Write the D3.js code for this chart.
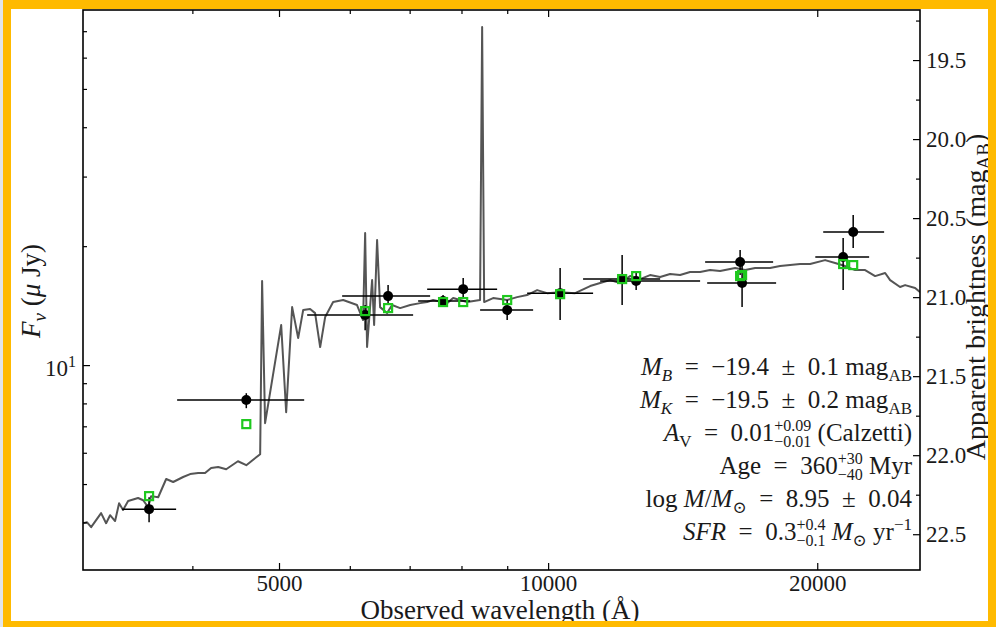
<!DOCTYPE html>
<html>
<head>
<meta charset="utf-8">
<script src="https://cdn.jsdelivr.net/npm/d3@7"></script>
<style>
  body { margin: 0; background: #e2e5e9; }
  svg { display: block; }
  text { font-family: "Liberation Serif", "DejaVu Serif", serif; fill: #1a1a1a; }
</style>
</head>
<body>
<svg id="chart" width="996" height="627"></svg>
<script>
// model spectrum (observed wavelength in A, flux in uJy)
const specWave = [3019,3050,3082,3162,3203,3236,3278,3312,3346,3390,3478,3524,3569,3597,3663,3739,3807,3906,3977,4060,
  4133,4198,4275,4364,4498,4596,4763,4787,4824,5028,5093,5172,5253,5321,5417,5487,5559,5631,5748,5898,
  6113,6209,6242,6273,6355,6388,6437,6487,6604,6690,6831,7010,7192,7323,7436,7709,7830,8116,8392,8437,
  8481,8679,8999,9232,9473,9721,9974,10314,10720,11143,11433,11731,12036,12350,12672,13002,13343,13691,14048,14414,
  14791,15176,15572,16189,16611,17044,17713,18175,18650,19136,19636,20408,20941,21488,22049,22625,23216,23822,24130,24756,
  25079,25735,26068];
const specFlux = [3.98,4.00,3.89,4.22,3.98,4.17,4.03,4.47,4.30,4.53,4.61,4.55,4.37,4.66,4.63,5.15,5.06,5.21,5.30,5.33,
  5.33,5.49,5.52,5.45,5.71,5.58,5.95,16.32,7.13,12.63,7.60,14.02,11.71,13.78,13.86,13.54,11.11,13.23,14.44,14.61,
  14.19,13.00,21.59,11.11,16.41,12.63,20.73,14.02,13.54,14.19,13.94,14.19,14.35,14.44,14.61,14.35,14.78,14.44,14.61,71.73,
  14.44,14.78,14.61,14.86,15.04,15.48,15.21,15.30,15.21,15.85,16.13,16.41,16.13,16.80,16.51,16.90,16.71,17.00,16.90,17.20,
  17.20,17.40,17.30,17.61,17.40,17.61,17.61,17.81,17.91,18.02,18.02,18.44,18.13,17.81,17.40,17.40,16.80,17.10,16.41,15.76,
  15.94,15.67,15.30];

// observed photometry
const obsWave   = [3578,4596,6242,6622,7629,8035,8999,10314,12100,12545,16397,16480,21380,21940];
const obsWaveLo = [3338,3846,5376,5883,7155,7323,8393,9474,10942,11433,14984,15063,19900,20310];
const obsWaveHi = [3836,5335,7063,7379,8180,8769,9621,11228,13345,14791,17852,17990,22860,23760];
const obsFlux   = [4.32,8.16,13.39,14.95,14.52,15.57,13.78,15.21,16.51,16.32,18.23,16.13,18.77,21.71];
const obsFluxLo = [4.00,7.78,12.26,14.19,14.02,14.78,13.00,13.00,14.19,15.48,16.90,14.02,15.48,19.78];
const obsFluxHi = [4.63,8.49,14.19,15.94,15.04,16.61,14.61,17.61,18.99,17.20,19.55,17.91,20.97,23.97];
// model photometry
const modelFlux = [4.66,7.09,13.70,13.94,14.44,14.44,14.61,15.12,16.51,16.80,16.80,16.90,18.02,17.91];

const xMajor = [5000, 10000, 20000];
const xMinor = [4000, 6000, 7000, 8000, 9000];
const yMajor = [10];
const yMinor = [4, 5, 6, 7, 8, 9, 20, 30, 40, 50, 60, 70];
const magMajor = [19.5, 20.0, 20.5, 21.0, 21.5, 22.0, 22.5];
const magMinor = [19.25, 19.75, 20.25, 20.75, 21.25, 21.75, 22.25];

const zp = 23.93;
const pL = 83, pR = 920, pT = 10, pB = 570;

const svg = d3.select("#chart");
svg.append("rect").attr("x", 3).attr("y", 0).attr("width", 993).attr("height", 627).attr("fill", "#fff");

const x = d3.scaleLog().domain([3018, 26060]).range([pL, pR]);
const y = d3.scaleLog().domain([3.03, 79.2]).range([pB, pT]);
const mag = f => zp - 2.5 * Math.log10(f);
const yMag = d3.scaleLinear().domain([mag(3.03), mag(79.2)]).range([pB, pT]);

svg.append("clipPath").attr("id", "clip")
  .append("rect").attr("x", pL).attr("y", pT).attr("width", pR - pL).attr("height", pB - pT);

const plot = svg.append("g").attr("clip-path", "url(#clip)");

// spectrum
const spec = specWave.map((w, i) => ({ w: w, f: specFlux[i] }));
plot.append("path")
  .datum(spec)
  .attr("fill", "none")
  .attr("stroke", "#555")
  .attr("stroke-width", 2)
  .attr("stroke-linejoin", "round")
  .attr("d", d3.line().x(d => x(d.w)).y(d => y(d.f)));

const pts = obsWave.map((w, i) => ({
  w: w, lo: obsWaveLo[i], hi: obsWaveHi[i],
  f: obsFlux[i], flo: obsFluxLo[i], fhi: obsFluxHi[i], m: modelFlux[i]
}));

// error bars
plot.selectAll(".xerr").data(pts).enter().append("line")
  .attr("x1", d => x(d.lo)).attr("x2", d => x(d.hi))
  .attr("y1", d => y(d.f)).attr("y2", d => y(d.f))
  .attr("stroke", "#000").attr("stroke-width", 1.5);
plot.selectAll(".yerr").data(pts).enter().append("line")
  .attr("x1", d => x(d.w)).attr("x2", d => x(d.w))
  .attr("y1", d => y(d.flo)).attr("y2", d => y(d.fhi))
  .attr("stroke", "#000").attr("stroke-width", 1.5);
plot.selectAll(".drop").data(pts).enter().append("circle")
  .attr("cx", d => x(d.w)).attr("cy", d => y(d.f)).attr("r", 5)
  .attr("fill", "#000");
plot.selectAll(".model").data(pts).enter().append("rect")
  .attr("x", d => x(d.w) - 4).attr("y", d => y(d.m) - 4)
  .attr("width", 8).attr("height", 8)
  .attr("fill", "none").attr("stroke", "#1ec81e").attr("stroke-width", 2.2);

// axes
function styleAxis(g) {
  g.select(".domain").remove();
  g.selectAll(".tick line").attr("stroke", "#000").attr("stroke-width", 1.2);
  g.selectAll(".tick text").attr("font-family", "Liberation Serif, serif").attr("font-size", 23).attr("fill", "#1a1a1a");
}
svg.append("g").attr("transform", `translate(0,${pB})`)
  .call(d3.axisBottom(x).tickValues(xMajor).tickSize(-7).tickPadding(5).tickFormat(d3.format("d")))
  .call(styleAxis);
svg.append("g").attr("transform", `translate(0,${pB})`)
  .call(d3.axisBottom(x).tickValues(xMinor).tickSize(-4).tickFormat(""))
  .call(styleAxis);
svg.append("g").attr("transform", `translate(0,${pT})`)
  .call(d3.axisTop(x).tickValues(xMajor).tickSize(-7).tickFormat(""))
  .call(styleAxis);
svg.append("g").attr("transform", `translate(0,${pT})`)
  .call(d3.axisTop(x).tickValues(xMinor).tickSize(-4).tickFormat(""))
  .call(styleAxis);
svg.append("g").attr("transform", `translate(${pL},0)`)
  .call(d3.axisLeft(y).tickValues(yMajor).tickSize(-7).tickFormat(""))
  .call(styleAxis);
svg.append("g").attr("transform", `translate(${pL},0)`)
  .call(d3.axisLeft(y).tickValues(yMinor).tickSize(-4).tickFormat(""))
  .call(styleAxis);
svg.append("g").attr("transform", `translate(${pR},0)`)
  .call(d3.axisRight(yMag).tickValues(magMajor).tickSize(-7).tickPadding(6).tickFormat(d3.format(".1f")))
  .call(styleAxis);
svg.append("g").attr("transform", `translate(${pR},0)`)
  .call(d3.axisRight(yMag).tickValues(magMinor).tickSize(-4).tickFormat(""))
  .call(styleAxis);

// 10^1 label
const tenLbl = svg.append("text").attr("x", 76).attr("y", y(10) + 11).attr("text-anchor", "end").attr("font-size", 23);
tenLbl.append("tspan").text("10");
tenLbl.append("tspan").text("1").attr("font-size", 16).attr("dy", -9);

// frame
svg.append("rect").attr("x", pL).attr("y", pT).attr("width", pR - pL).attr("height", pB - pT)
  .attr("fill", "none").attr("stroke", "#000").attr("stroke-width", 1.6);

// axis labels
svg.append("text").attr("x", 500).attr("y", 619).attr("text-anchor", "middle").attr("font-size", 27)
  .text("Observed wavelength (Å)");

const fl = svg.append("text").attr("transform", "translate(40,291) rotate(-90)")
  .attr("text-anchor", "middle").attr("font-size", 27);
fl.append("tspan").text("F").attr("font-style", "italic");
fl.append("tspan").text("ν").attr("font-style", "italic").attr("font-size", 19).attr("dy", 6);
fl.append("tspan").text(" (").attr("dy", -6);
fl.append("tspan").text("μ").attr("font-style", "italic");
fl.append("tspan").text(" Jy)");

const rl = svg.append("text").attr("transform", "translate(985,297) rotate(-90)")
  .attr("text-anchor", "middle").attr("font-size", 28);
rl.append("tspan").text("Apparent brightness (mag");
rl.append("tspan").text("AB").attr("font-size", 19).attr("dy", 5);
rl.append("tspan").text(")").attr("dy", -5);

// info text
function mathText(yPos, parts) {
  const t = svg.append("text").attr("x", 912).attr("y", yPos).attr("text-anchor", "end").attr("font-size", 25);
  let shift = 0, pendDx = 0;
  parts.forEach(p => {
    if (p.pair) {
      const sup = t.append("tspan").text(p.pair[0]).attr("font-size", 16).attr("dy", -10 - shift).attr("dx", pendDx);
      const l1 = sup.node().getComputedTextLength();
      const sub = t.append("tspan").text(p.pair[1]).attr("font-size", 16).attr("dx", -l1).attr("dy", 16);
      const l2 = sub.node().getComputedTextLength();
      shift = 6; pendDx = Math.max(l1, l2) - l2;
      return;
    }
    const off = p.sub ? 6 : p.sup ? -10 : 0;
    const s = t.append("tspan").text(p.t).attr("dy", off - shift).attr("dx", pendDx);
    if (p.sub || p.sup) s.attr("font-size", 17);
    if (p.it) s.attr("font-style", "italic");
    shift = off; pendDx = 0;
  });
}
const eq = "\u2002=\u2002", pm = "\u2002±\u2002";
mathText(375, [{t: "M", it: 1}, {t: "B", it: 1, sub: 1}, {t: eq + "−19.4" + pm + "0.1 mag"}, {t: "AB", sub: 1}]);
mathText(408, [{t: "M", it: 1}, {t: "K", it: 1, sub: 1}, {t: eq + "−19.5" + pm + "0.2 mag"}, {t: "AB", sub: 1}]);
mathText(441, [{t: "A", it: 1}, {t: "V", sub: 1}, {t: eq + "0.01"}, {pair: ["+0.09", "−0.01"]}, {t: " (Calzetti)"}]);
mathText(474, [{t: "Age" + eq + "360"}, {pair: ["+30", "−40"]}, {t: " Myr"}]);
mathText(507, [{t: "log "}, {t: "M", it: 1}, {t: "/"}, {t: "M", it: 1}, {t: "⊙", sub: 1}, {t: eq + "8.95" + pm + "0.04"}]);
mathText(540, [{t: "SFR", it: 1}, {t: eq + "0.3"}, {pair: ["+0.4", "−0.1"]}, {t: " "}, {t: "M", it: 1}, {t: "⊙", sub: 1}, {t: " yr"}, {t: "−1", sup: 1}]);

// orange border
const border = "#ffba00";
svg.append("rect").attr("x", 3).attr("y", 0).attr("width", 993).attr("height", 9).attr("fill", border);
svg.append("rect").attr("x", 3).attr("y", 0).attr("width", 8).attr("height", 627).attr("fill", border);
svg.append("rect").attr("x", 988).attr("y", 0).attr("width", 8).attr("height", 627).attr("fill", border);
svg.append("rect").attr("x", 3).attr("y", 621).attr("width", 993).attr("height", 6).attr("fill", border);
</script>
</body>
</html>
